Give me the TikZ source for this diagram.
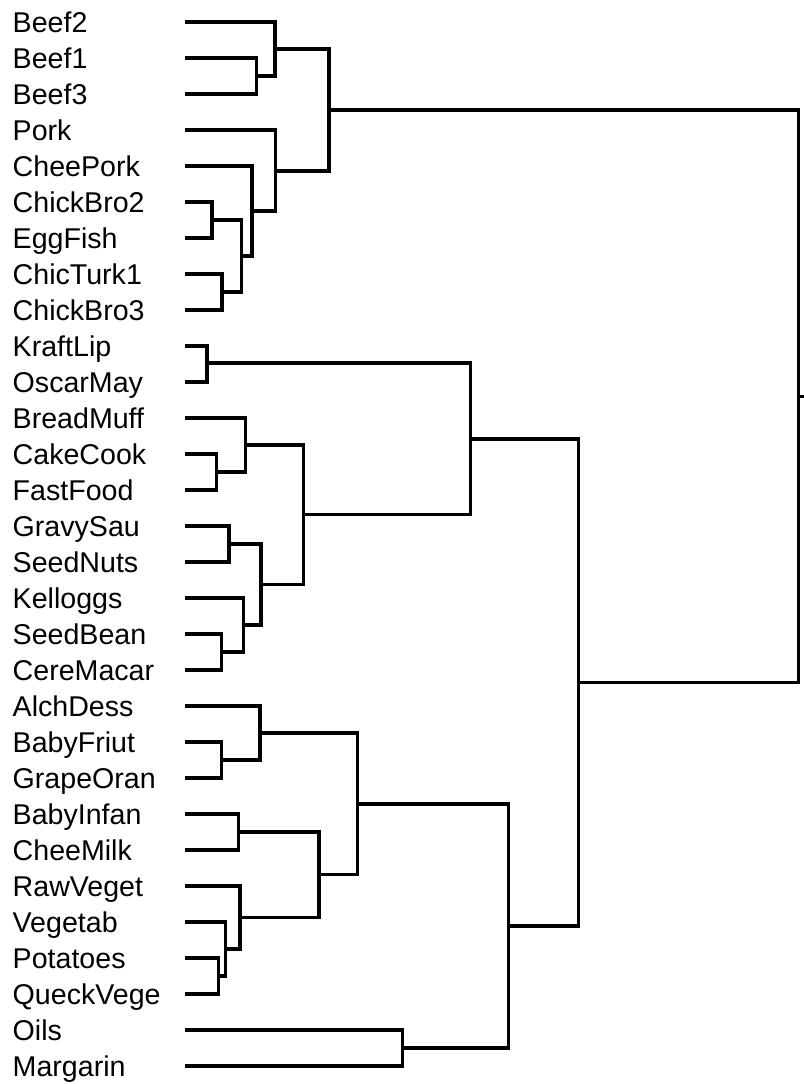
\documentclass[tikz,border=0pt]{standalone}
\usepackage{fontspec}
\setmainfont{Liberation Sans}
\begin{document}
\begin{tikzpicture}[x=1pt,y=-1pt,
  lab/.style={anchor=base west,inner sep=0pt,font=\fontsize{28.6}{31}\selectfont},
  link/.style={line width=3.3pt,black,line join=miter}]
\useasboundingbox (0,0) rectangle (803,1084);
\foreach \name [count=\i from 0] in {Beef2,Beef1,Beef3,Pork,CheePork,ChickBro2,EggFish,ChicTurk1,ChickBro3,KraftLip,OscarMay,BreadMuff,CakeCook,FastFood,GravySau,SeedNuts,Kelloggs,SeedBean,CereMacar,AlchDess,BabyFriut,GrapeOran,BabyInfan,CheeMilk,RawVeget,Vegetab,Potatoes,QueckVege,Oils,Margarin}{
  \node[lab] (l\i) at (12.5,{22+36*\i+10.8}) {\name};
  \coordinate (a\i) at (185,{22+36*\i});
}
% internal merge points
\coordinate (n1) at (256.7,76);
\coordinate (n2) at (275,49);
\coordinate (n3) at (212,220);
\coordinate (n4) at (222,292);
\coordinate (n5) at (241.7,256);
\coordinate (n6) at (252,211);
\coordinate (n7) at (275.7,171);
\coordinate (n8) at (329,110);
\coordinate (n9) at (207,363);
\coordinate (n10) at (216.7,472);
\coordinate (n11) at (245.7,445);
\coordinate (n12) at (229,544);
\coordinate (n13) at (221.7,652);
\coordinate (n14) at (243.3,625);
\coordinate (n15) at (261,584.5);
\coordinate (n16) at (303.3,514.75);
\coordinate (n17) at (470.5,438.9);
\coordinate (n18) at (221.7,760);
\coordinate (n19) at (260,733);
\coordinate (n20) at (238.3,832);
\coordinate (n21) at (218.5,976);
\coordinate (n22) at (225.7,949);
\coordinate (n23) at (240,917.5);
\coordinate (n24) at (319,874.75);
\coordinate (n25) at (357.3,803.9);
\coordinate (n26) at (402.3,1048);
\coordinate (n27) at (508.5,926);
\coordinate (n28) at (578.8,682.4);
\coordinate (n29) at (798.3,396.2);
\coordinate (rootend) at (806,396.2);
% connectors
\draw[link] (a1) -| (n1) |- (a2);
\draw[link] (a0) -| (n2) |- (n1);
\draw[link] (a5) -| (n3) |- (a6);
\draw[link] (a7) -| (n4) |- (a8);
\draw[link] (n3) -| (n5) |- (n4);
\draw[link] (a4) -| (n6) |- (n5);
\draw[link] (a3) -| (n7) |- (n6);
\draw[link] (n2) -| (n8) |- (n7);
\draw[link] (a9) -| (n9) |- (a10);
\draw[link] (a12) -| (n10) |- (a13);
\draw[link] (a11) -| (n11) |- (n10);
\draw[link] (a14) -| (n12) |- (a15);
\draw[link] (a17) -| (n13) |- (a18);
\draw[link] (a16) -| (n14) |- (n13);
\draw[link] (n12) -| (n15) |- (n14);
\draw[link] (n11) -| (n16) |- (n15);
\draw[link] (n9) -| (n17) |- (n16);
\draw[link] (a20) -| (n18) |- (a21);
\draw[link] (a19) -| (n19) |- (n18);
\draw[link] (a22) -| (n20) |- (a23);
\draw[link] (a26) -| (n21) |- (a27);
\draw[link] (a25) -| (n22) |- (n21);
\draw[link] (a24) -| (n23) |- (n22);
\draw[link] (n20) -| (n24) |- (n23);
\draw[link] (n19) -| (n25) |- (n24);
\draw[link] (a28) -| (n26) |- (a29);
\draw[link] (n25) -| (n27) |- (n26);
\draw[link] (n17) -| (n28) |- (n27);
\draw[link] (n8) -| (n29) |- (n28);
\draw[link] (n29) -- (rootend);
\end{tikzpicture}
\end{document}
